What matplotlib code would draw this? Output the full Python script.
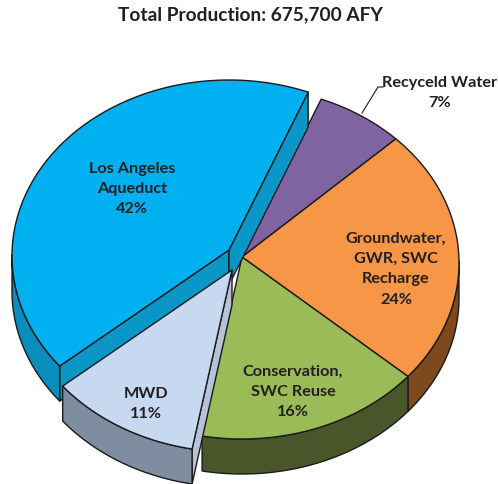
import numpy as np
import matplotlib
matplotlib.use("Agg")
import matplotlib.pyplot as plt
from matplotlib.patches import Polygon

plt.rcParams['font.family'] = ['Lato', 'DejaVu Sans']

title = "Total Production: 675,700 AFY"
names = ["Recycled", "Groundwater", "Conservation", "MWD", "LA"]
shares = [6.6, 23.6, 16.8, 11.3, 41.7]
top_colors = ["#8064A2", "#F79646", "#9BBB59", "#C6D9F1", "#00B0F0"]
wall_colors = ["#5B4674", "#7E4A1C", "#48562A", "#7F8DA1", "#0A8DBB"]
cut_colors = ["#5B4674", "#7E4A1C", "#48562A", "#B7C2D9", "#0A96C6"]
labels = ["Recyceld Water\n7%", "Groundwater,\nGWR, SWC\nRecharge\n24%",
          "Conservation,\nSWC Reuse\n16%", "MWD\n11%", "Los Angeles\nAqueduct\n42%"]
label_x = [440, 396, 293, 146, 132]
label_y = [93, 269, 392, 404, 189]
# pull-out of each slice, pixels
pull_x = [0, 0, 0, -10, -13]
pull_y = [0, 0, 0, 13, -7]

start = 68.6
cx, cy = 242, 263   # ellipse centre
apex_y = 257
a, b = 217, 176
depth = 35
edge = "#1A1A1A"

fig = plt.figure(figsize=(4.98, 4.84), dpi=100)
ax = fig.add_axes([0, 0, 1, 1])
ax.set_xlim(0, 498)
ax.set_ylim(484, 0)
ax.axis("off")


def rim(t0, t1, dx, dy):
    t = np.radians(np.linspace(t0, t1, 120))
    return np.column_stack([cx + dx + a * np.cos(t), cy + dy - b * np.sin(t)])


def poly(pts, color, z):
    ax.add_patch(Polygon(pts, closed=True, facecolor=color, edgecolor=edge,
                         linewidth=1.0, joinstyle="round", zorder=z))


bounds = start - np.cumsum([0] + shares) * 3.6
for i in range(len(shares)):
    t0, t1 = bounds[i], bounds[i + 1]
    dx, dy = pull_x[i], pull_y[i]
    z = 1 if dx == 0 else (10 if names[i] == "LA" else 20)
    arc = rim(t0, t1, dx, dy)
    apex = np.array([cx + dx, apex_y + dy])
    down = np.array([0, depth])

    # radial faces, only the pulled-out slices show them
    if dx != 0:
        poly(np.array([apex, arc[0], arc[0] + down, apex + down]), cut_colors[i], z)
        if names[i] == "LA":
            poly(np.array([apex, arc[-1], arc[-1] + down, apex + down]), cut_colors[i], z)

    # outer wall, front half of the ellipse only
    tt = np.linspace(t0, t1, 120)
    front = arc[np.sin(np.radians(tt)) <= 0.02]
    if len(front) > 1:
        poly(np.vstack([front, (front + down)[::-1]]), wall_colors[i], z + 1)

    poly(np.vstack([apex, arc]), top_colors[i], z + 2)

    ax.text(label_x[i], label_y[i], labels[i], ha="center", va="center", fontsize=11.7,
            fontweight="bold", color="#231F20", linespacing=1.58, zorder=30)

ax.plot([362, 378, 383], [113, 87, 87], color=edge, lw=0.8, zorder=30)
ax.text(250, 15, title, ha="center", va="center", fontsize=13.8, fontweight="bold",
        color="#231F20", zorder=30)

fig.savefig("out.png", dpi=100, facecolor="white")
